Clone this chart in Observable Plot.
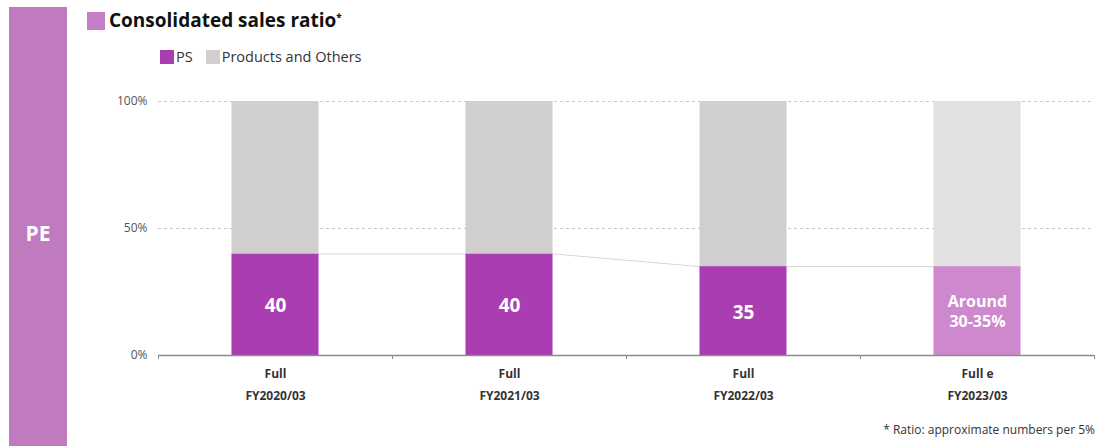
<!DOCTYPE html>
<html>
<head>
<meta charset="utf-8">
<script src="https://cdn.jsdelivr.net/npm/d3@7"></script>
<script src="https://cdn.jsdelivr.net/npm/@observablehq/plot@0.6"></script>
<style>
  body { margin: 0; width: 1098px; height: 446px; position: relative; overflow: hidden; background: #fff; font-family: "Open Sans", "DejaVu Sans", sans-serif; }
  #side { position: absolute; left: 9px; top: 7px; width: 58px; height: 439px; background: #C07ABF; }
  #side span { position: absolute; left: 0; width: 58px; top: 212px; text-align: center; color: #fff; font-weight: bold; font-size: 21px; }
  #title { position: absolute; left: 87px; top: 7px; font-size: 19px; font-weight: bold; color: #111; white-space: nowrap; }
  #title i { display: inline-block; width: 18px; height: 18px; background: #C57DC5; vertical-align: -3px; margin-right: 4px; }
  #title sup { font-size: 10px; vertical-align: 6px; }
  #legend { position: absolute; left: 160px; top: 47px; font-size: 14.5px; color: #333; white-space: nowrap; }
  #legend i { display: inline-block; width: 14px; height: 14px; vertical-align: -2px; margin-right: 2px; }
  #legend span { margin-right: 13px; }
  #chart { position: absolute; left: 0; top: 81px; }
  #note { position: absolute; right: 3px; top: 421px; font-size: 12px; color: #333; white-space: nowrap; }
</style>
</head>
<body>
<div id="side"><span>PE</span></div>
<div id="title"><i></i>Consolidated sales ratio<sup>*</sup></div>
<div id="legend"></div>
<div id="chart"></div>
<div id="note">* Ratio: approximate numbers per 5%</div>
<script>
const periods = ["Full", "Full", "Full", "Full e"];
const fiscalYears = ["FY2020/03", "FY2021/03", "FY2022/03", "FY2023/03"];
const psShare = [40, 40, 35, 35];
const psLabels = ["40", "40", "35", "Around\n30-35%"];
const isEstimate = [false, false, false, true];
const seriesNames = ["PS", "Products and Others"];
const yTicks = [0, 50, 100];

const C = { ps: "#AB3DB3", psEst: "#CE88CE", other: "#D0CECF", otherEst: "#E1E1E1" };

// legend
const legend = document.getElementById("legend");
[[seriesNames[0], C.ps], [seriesNames[1], C.other]].forEach(([n, c]) => {
  const s = document.createElement("span");
  s.innerHTML = `<i style="background:${c}"></i>${n}`;
  legend.appendChild(s);
});

const data = periods.map((p, i) => ({
  i, label: p + "\n" + fiscalYears[i], ps: psShare[i], txt: psLabels[i], est: isEstimate[i]
}));
const half = 0.186; // half bar width in band units
const conn = [];
for (let k = 0; k < data.length - 1; k++) {
  conn.push({x1: data[k].i + half, y1: data[k].ps, x2: data[k + 1].i - half, y2: data[k + 1].ps});
}
const bounds = d3.range(data.length + 1).map(k => k - 0.5);

const chart = Plot.plot({
  width: 1098,
  height: 365,
  marginTop: 20,
  marginBottom: 91,
  marginLeft: 158,
  marginRight: 4,
  style: { fontFamily: "'Open Sans', 'DejaVu Sans', sans-serif", background: "transparent" },
  x: { domain: [-0.5, data.length - 0.5], axis: null },
  y: { domain: [0, 100], axis: null },
  marks: [
    Plot.ruleY(yTicks.filter(t => t > 0), { stroke: "#c8c8c8", strokeDasharray: "3,3", strokeWidth: 1 }),
    Plot.link(conn, { x1: "x1", y1: "y1", x2: "x2", y2: "y2", stroke: "#d6d6d6", strokeWidth: 1 }),
    Plot.rectY(data, { x1: d => d.i - half, x2: d => d.i + half, y1: 0, y2: "ps", fill: d => d.est ? C.psEst : C.ps }),
    Plot.rectY(data, { x1: d => d.i - half, x2: d => d.i + half, y1: "ps", y2: 100, fill: d => d.est ? C.otherEst : C.other }),
    Plot.ruleY([0], { stroke: "#8c8c8c", strokeWidth: 1.5 }),
    Plot.ruleX(bounds, { x: d => d, y1: 0, y2: -1.6, stroke: "#8c8c8c" }),
    Plot.text(yTicks, { x: -0.5, y: d => d, text: d => d + "%", textAnchor: "end", dx: -11, fontSize: 12, fill: "#555" }),
    Plot.text(data, { x: "i", y: d => d.ps / 2, text: "txt", fill: "#fff", fontWeight: "bold",
      fontSize: d => d.est ? 16 : 19, lineHeight: 1.25 }),
    Plot.text(data, { x: "i", y: 0, text: "label", dy: 7, lineAnchor: "top", fontWeight: "bold", fontSize: 12, fill: "#333", lineHeight: 1.83 })
  ]
});
document.getElementById("chart").appendChild(chart);
</script>
</body>
</html>
